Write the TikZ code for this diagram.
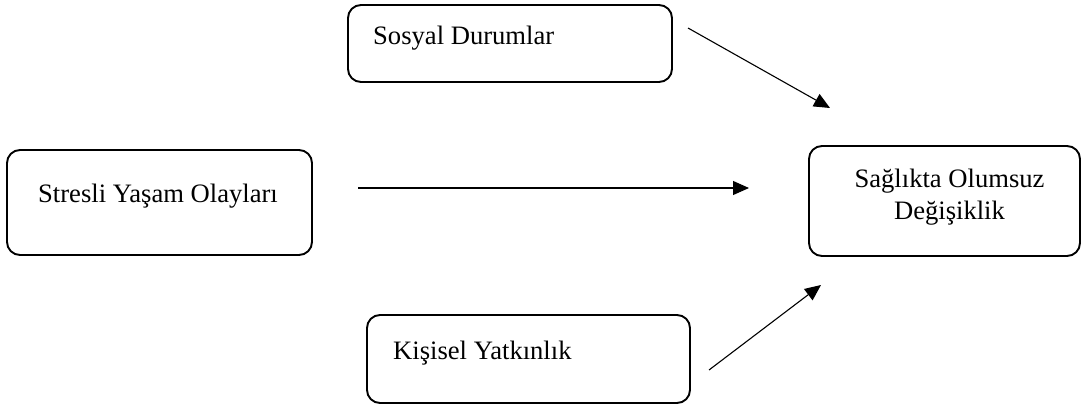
\documentclass[tikz,border=0pt]{standalone}
\usepackage{fontspec}
\setmainfont{Liberation Serif}
\usetikzlibrary{arrows.meta}
\begin{document}
\begin{tikzpicture}[x=1pt,y=1pt,
  box/.style={draw=black, line width=1.9pt, rounded corners=13pt, inner sep=0pt},
  lbl/.style={font=\fontsize{26.6}{32}\selectfont, inner sep=0pt},
  arr/.style={line width=1.1pt, -{Triangle[length=16pt,width=14pt]}}]
\useasboundingbox (0,0) rectangle (1081,405);
% boxes (y flipped: y' = 405 - y)
\node[box, minimum width=305pt, minimum height=105pt] (A) at (159.5,202.5) {};
\node[box, minimum width=324pt, minimum height=77pt] (B) at (510,361.5) {};
\node[box, minimum width=323pt, minimum height=88pt] (C) at (528.5,46) {};
\node[box, minimum width=271pt, minimum height=110pt] (D) at (944.5,204) {};
% texts
\node[lbl, anchor=base] (tA) at (158,203) {Stresli Yaşam Olayları};
\node[lbl, anchor=base west] (tB) at (373,360) {Sosyal Durumlar};
\node[lbl, anchor=base west] (tC) at (393,46) {Kişisel Yatkınlık};
\node[lbl, anchor=base] (tD1) at (949.5,218) {Sağlıkta Olumsuz};
\node[lbl, anchor=base] (tD2) at (949.5,186) {Değişiklik};
% arrow ends
\coordinate (b1) at (688,377);
\coordinate (b2) at (830,297);
\coordinate (a1) at (358,217);
\coordinate (a2) at (749,217);
\coordinate (c1) at (709,35);
\coordinate (c2) at (821,120);
\draw[arr] (b1) -- (b2);
\draw[arr] (a1) -- (a2);
\draw[arr] (c1) -- (c2);
\end{tikzpicture}
\end{document}
